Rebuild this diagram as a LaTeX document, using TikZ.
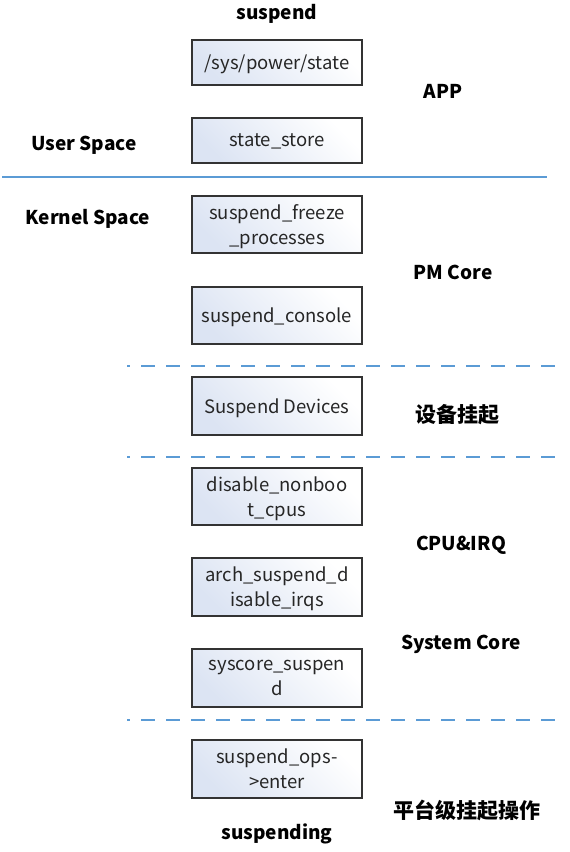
\documentclass[tikz,border=0pt]{standalone}
\usepackage{fontspec}
\setmainfont{Noto Sans CJK SC}
\begin{document}
\begin{tikzpicture}[x=1pt,y=-1pt]
\definecolor{linec}{HTML}{5B9BD5}
\definecolor{boxfill}{RGB}{220,228,243}
\tikzset{
  box/.style={draw=black!80, line width=1.3pt, left color=boxfill, right color=white, shading angle=135,
    minimum width=170pt, inner sep=0pt, align=center, text depth=0pt, font=\fontsize{18.5}{25}\selectfont, text=black!85},
  lab/.style={font=\fontsize{19}{22}\selectfont\bfseries, text=black},
  cjklab/.style={font=\fontsize{21}{24}\selectfont\bfseries, text=black},
  sep/.style={draw=linec, line width=1.8pt},
  dsep/.style={sep, dash pattern=on 14pt off 11pt, dash phase=11pt}}
\useasboundingbox (0,0) rectangle (570,852);
\node[box, minimum height=45pt] (b1) at (277,62.5) {/sys/power/state};
\node[box, minimum height=45pt] (b2) at (277,140.5) {state\_store};
\node[box, minimum height=57pt] (b3) at (277,224.5) {suspend\_freeze\\\_processes};
\node[box, minimum height=57pt] (b4) at (277,315.5) {suspend\_console};
\node[box, minimum height=58pt] (b5) at (277,406) {Suspend Devices};
\node[box, minimum height=57pt] (b6) at (277,496.5) {disable\_nonboo\\t\_cpus};
\node[box, minimum height=58pt] (b7) at (277,587) {arch\_suspend\_d\\isable\_irqs};
\node[box, minimum height=58pt] (b8) at (277,678) {syscore\_suspen\\d};
\node[box, minimum height=58pt] (b9) at (277,769) {suspend\_ops-\\>enter};
\node[lab] (t1) at (277,14) {suspend};
\node[lab] (t2) at (277,834) {suspending};
\node[lab] (l1) at (443,91) {APP};
\node[lab] (l2) at (84,145) {User Space};
\node[lab] (l3) at (88,219) {Kernel Space};
\node[lab] (l4) at (453,272) {PM Core};
\node[cjklab] (l5) at (457,415) {设备挂起};
\node[lab] (l6) at (461,545) {CPU\&IRQ};
\node[lab] (l7) at (461,644) {System Core};
\node[cjklab] (l8) at (467,810) {平台级挂起操作};
\coordinate (s1) at (2,177);
\coordinate (s2) at (547,177);
\draw[sep] (s1) -- (s2);
\coordinate (d1a) at (127,366); \coordinate (d1b) at (556,366);
\coordinate (d2a) at (127,457); \coordinate (d2b) at (556,457);
\coordinate (d3a) at (127,720); \coordinate (d3b) at (556,720);
\draw[dsep] (d1a) -- (d1b);
\draw[dsep] (d2a) -- (d2b);
\draw[dsep] (d3a) -- (d3b);
\end{tikzpicture}
\end{document}
